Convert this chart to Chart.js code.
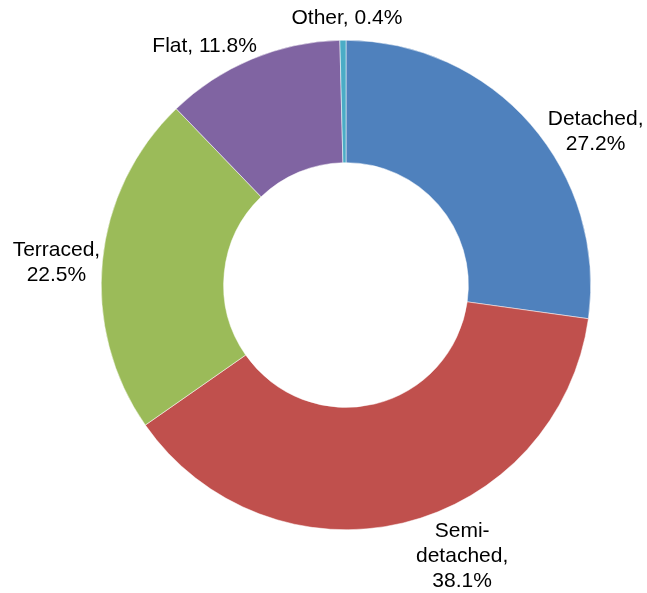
<!DOCTYPE html>
<html>
<head>
<meta charset="utf-8">
<script src="https://cdn.jsdelivr.net/npm/chart.js@4.4.0/dist/chart.umd.min.js"></script>
<style>
  body { margin: 0; background: #fff; }
  #wrap { width: 647px; height: 593px; }
</style>
</head>
<body>
<div id="wrap"><canvas id="donut" width="647" height="593"></canvas></div>
<script>
// Dwelling types, share of stock (%)
const tipos = ['Detached', 'Semi-detached', 'Terraced', 'Flat', 'Other'];
const percentuais = [27.2, 38.1, 22.5, 11.8, 0.4];
const cores = ['#4F81BD', '#C0504D', '#9BBB59', '#8064A2', '#4BACC6'];

// Rótulos: quebra em várias linhas ou não
const quebraRotulo = [true, true, true, false, false];
// Deslocamento do rótulo a partir do ponto médio da borda externa do arco
const deslocRotulo = [[65, 7], [59, 33], [-46, 2], [-47, -13], [4, -22]];

function linhasRotulo(i) {
    const valor = percentuais[i].toFixed(1) + '%';
    if (!quebraRotulo[i]) return [tipos[i] + ', ' + valor];
    // quebra depois do hífen, como "Semi-" / "detached,"
    const partes = tipos[i].split(/(?<=-)/);
    return partes.slice(0, -1).concat([partes[partes.length - 1] + ',', valor]);
}

// Plugin que escreve os rótulos ao redor da rosca
const rotulosPlugin = {
    id: 'rotulos',
    afterDatasetsDraw(chart) {
        const ctx = chart.ctx;
        const arcos = chart.getDatasetMeta(0).data;
        ctx.save();
        ctx.font = '21px "Liberation Sans", Arial, sans-serif';
        ctx.fillStyle = '#000';
        ctx.textAlign = 'center';
        ctx.textBaseline = 'middle';
        const alturaLinha = 25;
        arcos.forEach((arco, i) => {
            const p = arco.getProps(['x', 'y', 'startAngle', 'endAngle', 'outerRadius'], true);
            const meio = (p.startAngle + p.endAngle) / 2;
            const cx = p.x + Math.cos(meio) * p.outerRadius + deslocRotulo[i][0];
            const cy = p.y + Math.sin(meio) * p.outerRadius + deslocRotulo[i][1];
            const linhas = linhasRotulo(i);
            const y0 = cy - (linhas.length - 1) * alturaLinha / 2;
            linhas.forEach((txt, k) => ctx.fillText(txt, cx, y0 + k * alturaLinha));
        });
        ctx.restore();
    }
};

new Chart(document.getElementById('donut').getContext('2d'), {
    type: 'doughnut',
    data: {
        labels: tipos,
        datasets: [{
            data: percentuais,
            backgroundColor: cores,
            borderColor: '#ffffff',
            borderWidth: 0.5,
        }],
    },
    options: {
        responsive: false,
        animation: false,
        cutout: '50%',
        layout: {
            padding: { left: 101, right: 56, top: 40, bottom: 63 }
        },
        plugins: {
            legend: { display: false },
            tooltip: { enabled: false }
        }
    },
    plugins: [rotulosPlugin]
});
</script>
</body>
</html>
